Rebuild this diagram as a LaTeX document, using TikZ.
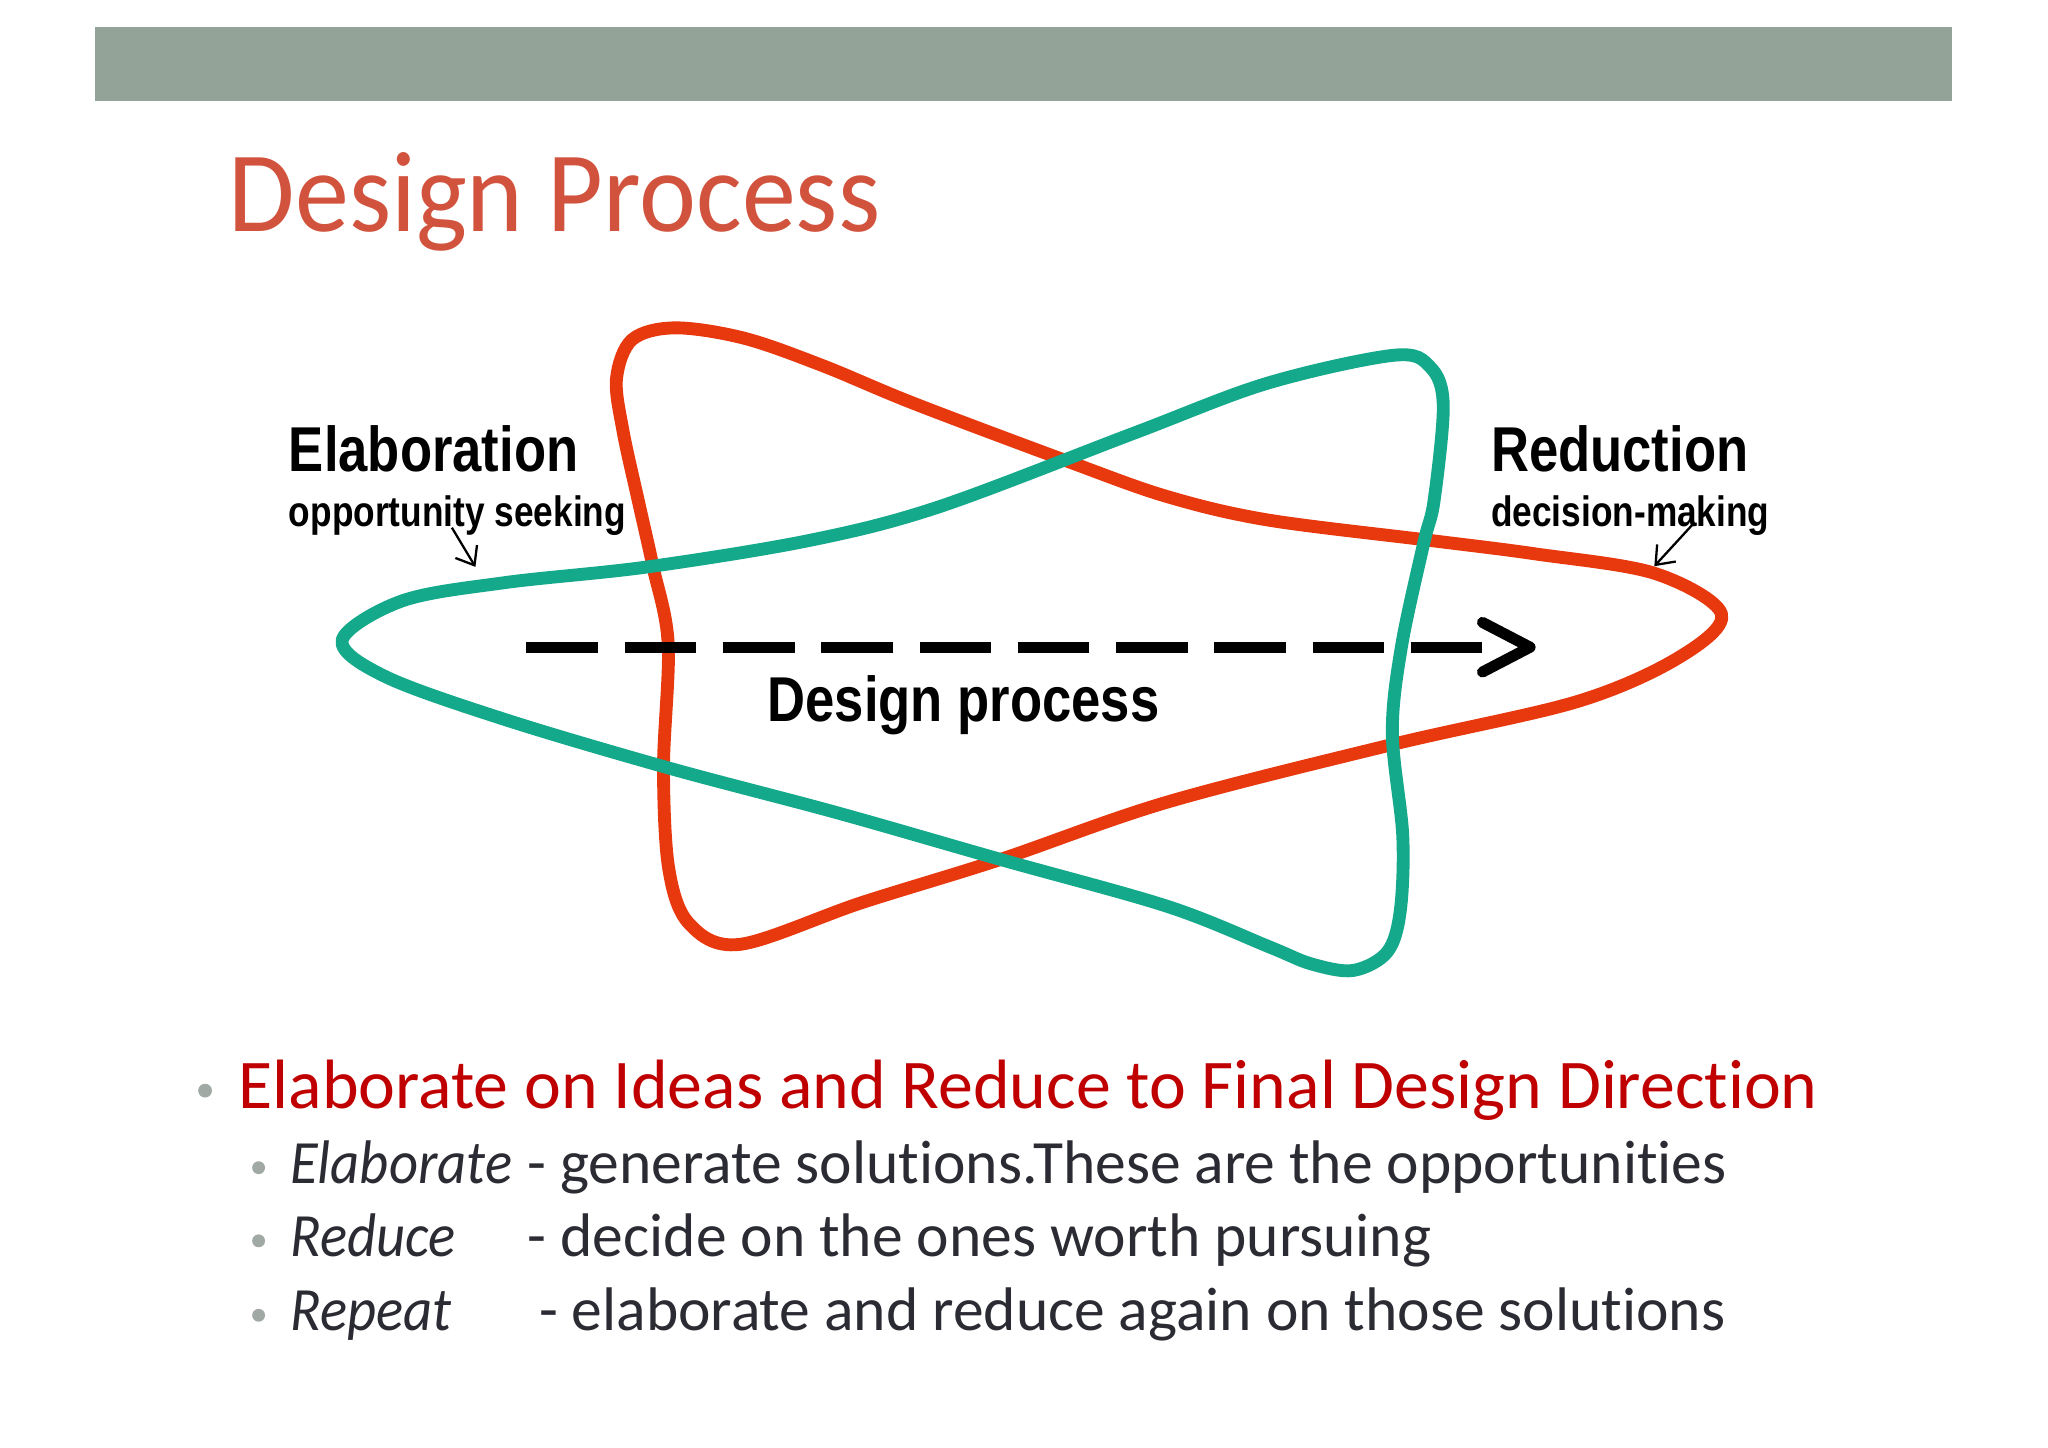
\documentclass[tikz,border=0pt]{standalone}
\usepackage{fontspec}
\setmainfont{Carlito}[Ligatures=NoCommon]
\newfontfamily\labelfont{Liberation Sans}
\usetikzlibrary{arrows.meta,calc}
\definecolor{barcol}{HTML}{93A398}
\definecolor{titlecol}{HTML}{D2533D}
\definecolor{leadcol}{HTML}{C00000}
\definecolor{subcol}{HTML}{2B2B33}
\definecolor{dotcol}{HTML}{A0A9A3}
\definecolor{redloop}{HTML}{E8380E}
\definecolor{greenloop}{HTML}{15A98B}
\newcommand{\narrowed}[1]{\scalebox{0.83}[1]{#1}}
\newcommand{\itemword}[1]{\scalebox{0.92}[1]{\itshape #1}}
\tikzset{
  >={Straight Barb[length=3.5pt,width=5.5pt]},
  txt/.style={inner sep=0pt, anchor=base west},
  biglabel/.style={txt, font=\labelfont\fontsize{13.8}{16}\selectfont\bfseries},
  smalllabel/.style={txt, font=\labelfont\fontsize{9.25}{11}\selectfont\bfseries},
  band/.style={line width=2.8pt, line join=round},
  pointer/.style={->, line width=0.5pt},
  flow/.style={line width=2.4pt, dash pattern=on 15.6pt off 5.8pt},
  chevron/.style={line width=2.4pt, line cap=round, line join=round},
  leadline/.style={txt, font=\fontsize{15.2}{18}\selectfont, text=leadcol},
  subline/.style={txt, font=\fontsize{13.4}{16}\selectfont, text=subcol},
  bulletdot/.style={circle, fill=dotcol, inner sep=0pt, minimum size=2.8pt},
}
\begin{document}
\begin{tikzpicture}[x=0.01cm, y=-0.01cm]
  \useasboundingbox (0,0) rectangle (1568,1108);
  \fill[white] (0,0) rectangle (1568,1108);

  % header
  \fill[barcol] (73,20.4) rectangle (1494.6,77.1);
  \node[txt, font=\fontsize{25}{30}\selectfont, text=titlecol] (title) at (174.6,177.4) {\scalebox{0.94}[1]{Design Process}};

  % the two loops
  \draw[band, redloop] plot[smooth cycle, tension=0.55] coordinates {
    (517,251) (570,259) (630,280) (700,309) (817,353) (893,380)
    (970,398) (1093,413.5) (1175,424) (1267,439) (1318,470) (1286,503)
    (1208,537) (1066,570) (894,614) (766,658) (660,691) (566.6,723)
    (527.5,707) (512,665) (508,588) (511.6,493) (500,434) (488.6,383)
    (477,330) (472,290) (484,260)};
  \draw[band, greenloop] plot[smooth cycle, tension=0.55] coordinates {
    (262,490) (308,460) (387,446) (496,434) (621,413.5) (719,388)
    (868,331.7) (970,293.5) (1067,272) (1095,281) (1105,310)
    (1098,383) (1090,416) (1073,495) (1066,561) (1074,640) (1072,698)
    (1062,729) (1036,743) (1004,738) (972,725) (894,694) (766,658) (640,622)
    (512,588) (387,551) (295,518)};

  % labels
  \node[biglabel] (elab) at (220.5,360.6) {\narrowed{Elaboration}};
  \node[smalllabel] (seek) at (220.5,403) {\narrowed{opportunity seeking}};
  \node[biglabel] (reduc) at (1141,360.6) {\narrowed{Reduction}};
  \node[smalllabel] (decide) at (1141,403) {\narrowed{decision-making}};
  \node[biglabel] (dproc) at (587,552.6) {\narrowed{Design process}};

  \coordinate (seekfrom) at (346,404);
  \coordinate (seekto) at (364,434);
  \coordinate (decfrom) at (1295.5,402);
  \coordinate (decto) at (1266.6,433.5);
  \draw[pointer] (seekfrom) -- (seekto);
  \draw[pointer] (decfrom) -- (decto);

  % design process arrow
  \coordinate (pstart) at (403,495.5);
  \coordinate (pend) at (1135,495.5);
  \coordinate (ptip) at (1171.5,495.5);
  \draw[flow] (pstart) -- (pend);
  \draw[chevron] ($(pend)+(0,-19)$) -- (ptip) -- ($(pend)+(0,19)$);

  % bullets
  \node[bulletdot, minimum size=3pt] (leaddot) at (157,835) {};
  \node[leadline] (lead) at (182,849) {Elaborate on Ideas and Reduce to Final Design Direction};
  \foreach \y in {906,962,1019}
    \node[bulletdot] (dot\y) at (198,{\y-12}) {};
  \node[subline] (elabitem) at (221.5,906) {\itemword{Elaborate}};
  \node[subline] (elabtext) at (403,906) {- generate solutions.These are the opportunities};
  \node[subline] (reditem) at (221.5,962) {\itemword{Reduce}};
  \node[subline] (redtext) at (403.5,962) {- decide on the ones worth pursuing};
  \node[subline] (repitem) at (221.5,1019) {\itemword{Repeat}};
  \node[subline] (reptext) at (412,1019) {- elaborate and reduce again on those solutions};
\end{tikzpicture}
\end{document}
